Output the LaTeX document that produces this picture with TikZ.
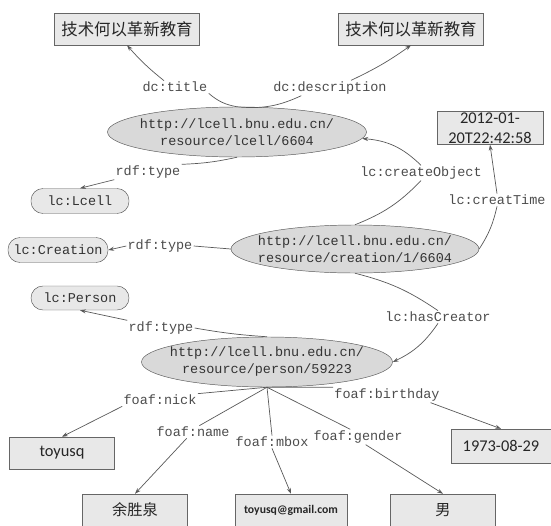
\documentclass[tikz,border=0pt]{standalone}
\usepackage{fontspec}
\setmonofont{Liberation Mono}
\newfontfamily\cjkfont{Noto Sans CJK SC}
\newfontfamily\calfont{Carlito}
\usetikzlibrary{shapes.geometric,arrows.meta}
\newcommand{\tfont}{\ttfamily\fontsize{11.5}{14.5}\selectfont}

\tikzset{
  lit/.style={draw=black!60, fill=black!9, inner sep=1pt, minimum width=3.15cm, minimum height=0.96cm, align=center, text=black!85},
  res/.style={ellipse, draw=black!65, fill=black!15, inner xsep=-8pt, inner ysep=0pt, minimum height=1.5cm, align=center, font=\tfont, text=black!80},
  cls/.style={draw=black!65, fill=black!9, rounded corners=3.6mm, minimum width=2.94cm, minimum height=0.75cm, inner sep=1pt, font=\tfont, text=black!80},
  prop/.style={inner sep=1pt, font=\tfont, text=black!70},
  link/.style={draw=black!65, line width=0.6pt},
  arr/.style={link, -{Stealth[length=5pt,width=3.5pt]}}
}

\begin{document}
\begin{tikzpicture}[x=0.03cm,y=-0.03cm]
\useasboundingbox (0,0) rectangle (551,526);

% resources
\node[res,minimum width=7.77cm] (e1) at (237,132) {http://lcell.bnu.edu.cn/\\resource/lcell/6604};
\node[res,minimum width=7.38cm,minimum height=1.44cm] (e2) at (355,249) {http://lcell.bnu.edu.cn/\\resource/creation/1/6604};
\node[res,minimum width=7.53cm] (e3) at (267,362) {http://lcell.bnu.edu.cn/\\resource/person/59223};

% literals
\node[lit,minimum width=4.35cm,font=\cjkfont\fontsize{14}{16}\selectfont] (t1) at (127,29) {技术何以革新教育};
\node[lit,minimum width=4.35cm,font=\cjkfont\fontsize{14}{16}\selectfont] (t2) at (411,29) {技术何以革新教育};
\node[lit,minimum width=3.18cm,minimum height=0.99cm,inner sep=0pt,font=\calfont\fontsize{14}{17}\selectfont] (date) at (490,128) {2012-01-\\20T22:42:58};
\node[lit,font=\calfont\fontsize{14}{16}\selectfont] (nick) at (62,453) {toyusq};
\node[lit,minimum width=3cm,minimum height=1.02cm,font=\calfont\fontsize{14}{16}\selectfont] (bday) at (501,446) {1973-08-29};
\node[lit,font=\cjkfont\fontsize{13}{15}\selectfont] (name) at (135,510) {余胜泉};
\node[lit,minimum width=3.36cm,font=\calfont\bfseries\fontsize{10}{12}\selectfont] (mbox) at (291,510) {toyusq@gmail.com};
\node[lit,font=\cjkfont\fontsize{13}{15}\selectfont] (gender) at (443,510) {男};

% classes
\node[cls] (lcell) at (80,201) {lc:Lcell};
\node[cls,minimum width=3cm] (creation) at (58,250) {lc:Creation};
\node[cls,minimum height=0.72cm] (person) at (80,298) {lc:Person};

% property labels
\foreach \n/\x/\y/\t in {Ltitle/175/87/dc:title, Ldesc/330/88/dc:description,
  Ltype1/148/172/rdf:type, Lcreate/421/173/lc:createObject, Ltime/497/200/lc:creatTime,
  Ltype2/160/246/rdf:type, Lcreator/438/317/lc:hasCreator, Ltype3/161/328/rdf:type,
  Lnick/160/400/foaf:nick, Lbday/387/395/foaf:birthday, Lname/193/432/foaf:name,
  Lmbox/272/442/foaf:mbox, Lgender/358/437/foaf:gender}
  \node[prop] (\n) at (\x,\y) {\t};

% lcell resource
\draw[link] (e1.north) to[bend left=15] (Ltitle.south east);
\draw[arr] (Ltitle.150) to[bend left=5] (t1.south);
\draw[link] (e1.north) to[bend right=15] (Ldesc.-165);
\draw[arr] (Ldesc.20) to[bend right=5] (t2.south);
\draw[link] (e1.south) to[bend left=5] (Ltype1.north east);
\draw[arr] (Ltype1.south west) -- (lcell.north);

% creation resource
\draw[link] (e2.north) to[bend right=12] (Lcreate.south);
\draw[arr] (Lcreate.north) to[bend right=20] (e1.-3);
\draw[link] (e2.east) to[bend right=10] (Ltime.south);
\draw[arr] (Ltime.north) -- (date.south);
\draw[link] (e2.west) -- (Ltype2.east);
\draw[arr] (Ltype2.west) -- (creation.east);
\draw[link] (e2.south) to[bend left=10] (Lcreator.north);
\draw[arr] (Lcreator.south) to[bend left=15] (e3.east);

% person resource
\draw[link] (e3.north) to[bend left=3] (Ltype3.east);
\draw[arr] (Ltype3.north west) -- (person.south);
\draw[link] (e3.south) -- (Lnick.north east);
\draw[arr] (Lnick.south west) -- (nick.north);
\draw[link] (e3.south) -- (Lbday.north west);
\draw[arr] (Lbday.-10) -- (bday.north);
\draw[link] (e3.south) -- (Lname.45);
\draw[arr] (Lname.-135) -- (name.north);
\draw[link] (e3.south) -- (Lmbox.north);
\draw[arr] (Lmbox.south) -- (mbox.north);
\draw[link] (e3.south) -- (Lgender.135);
\draw[arr] (Lgender.-45) -- (gender.north);
\end{tikzpicture}
\end{document}
